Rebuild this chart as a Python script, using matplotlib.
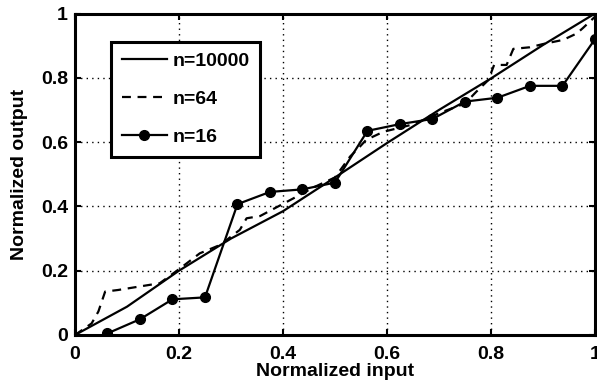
import matplotlib
matplotlib.use("Agg")
import matplotlib.pyplot as plt
import numpy as np

plt.rcParams['font.family'] = ['Liberation Sans', 'DejaVu Sans']
plt.rcParams['font.weight'] = 'bold'

# n=10000 curve (nearly straight)
x_big = [0, 0.1, 0.2, 0.3, 0.4, 0.5, 0.6, 0.7, 0.8, 0.9, 1.0]
y_big = [0, 0.088, 0.2, 0.3, 0.385, 0.49, 0.597, 0.7, 0.798, 0.902, 1.0]

# n=64 curve (dashed)
x_mid = [0, 0.032, 0.045, 0.058, 0.083, 0.163, 0.202, 0.24, 0.279, 0.317, 0.33,
         0.356, 0.42, 0.46, 0.5, 0.529, 0.548, 0.56, 0.593, 0.65, 0.7, 0.75,
         0.772, 0.795, 0.806, 0.83, 0.843, 0.875, 0.9, 0.939, 0.965, 0.977, 1.0]
y_mid = [0, 0.036, 0.073, 0.135, 0.14, 0.161, 0.207, 0.254, 0.28, 0.327, 0.363,
         0.37, 0.425, 0.46, 0.49, 0.555, 0.586, 0.607, 0.632, 0.655, 0.69, 0.72,
         0.757, 0.793, 0.84, 0.84, 0.89, 0.895, 0.905, 0.918, 0.938, 0.955, 0.99]

# n=16 curve (with markers)
x_small = [1/16, 2/16, 3/16, 4/16, 5/16, 6/16, 7/16, 8/16,
           9/16, 10/16, 11/16, 12/16, 13/16, 14/16, 15/16, 16/16]
y_small = [0.005, 0.049, 0.111, 0.117, 0.407, 0.445, 0.453, 0.474,
           0.635, 0.656, 0.672, 0.726, 0.738, 0.775, 0.775, 0.92]

ticks = [0, 0.2, 0.4, 0.6, 0.8, 1]
tick_labels = ['0', '0.2', '0.4', '0.6', '0.8', '1']

fig = plt.figure(figsize=(5.97, 3.87), dpi=100)
ax = fig.add_axes([0.1256, 0.1344, 0.8710, 0.8307])

ax.plot(x_big, y_big, color='black', lw=1.6, label='n=10000')
ax.plot(x_mid, y_mid, color='black', lw=1.6, ls=(0, (4, 3)), label='n=64')
ax.plot(x_small, y_small, color='black', lw=1.6, marker='o', ms=7, label='n=16')

ax.set_xlim(0, 1)
ax.set_ylim(0, 1)
ax.set_xticks(ticks)
ax.set_xticklabels(tick_labels)
ax.set_yticks(ticks)
ax.set_yticklabels(tick_labels)
ax.tick_params(direction='in', length=4, width=1.5, labelsize=14, top=True, right=True)
ax.tick_params(axis='x', pad=8)
ax.tick_params(axis='y', pad=5)
ax.grid(True, color='black', ls=(0, (1, 3)), lw=1.0)
for s in ax.spines.values():
    s.set_linewidth(2.2)

ax.set_xlabel('Normalized input', fontsize=14, fontweight='bold', labelpad=0)
ax.set_ylabel('Normalized output', fontsize=14, fontweight='bold', labelpad=9)

leg = ax.legend(loc='upper left', bbox_to_anchor=(0.07, 0.912), fontsize=14, frameon=True,
                fancybox=False, edgecolor='black', framealpha=1, borderaxespad=0,
                handlelength=2.3, handletextpad=0.3, labelspacing=1.05, borderpad=0.55)
leg.get_frame().set_linewidth(2.2)

fig.savefig('out.png', dpi=100)
